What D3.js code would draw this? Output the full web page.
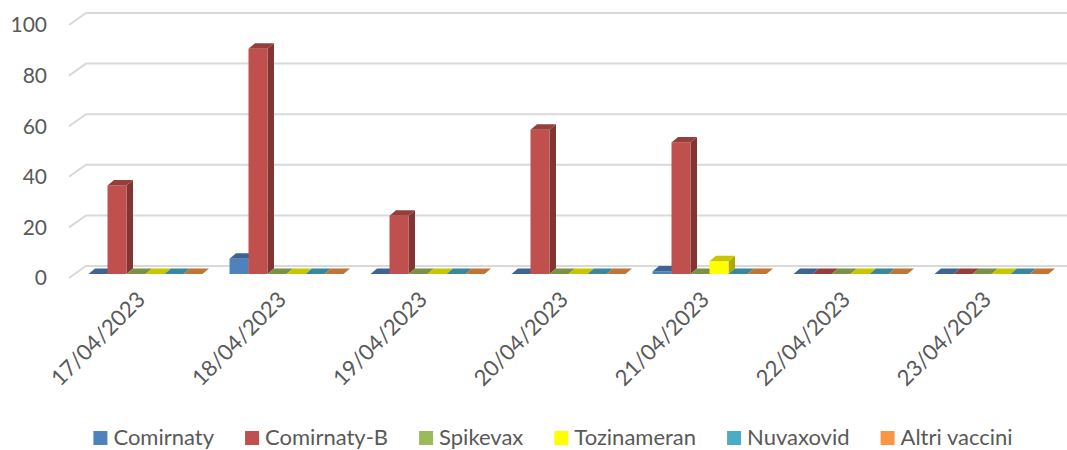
<!DOCTYPE html>
<html>
<head>
<meta charset="utf-8">
<script src="https://cdn.jsdelivr.net/npm/d3@7"></script>
<style>
  body { margin: 0; background: #fff; }
  svg { display: block; }
  text { font-family: Lato, "Open Sans", sans-serif; fill: #595959; }
</style>
</head>
<body>
<svg id="chart" width="1067" height="450"></svg>
<script>
// data
var dates = ['17/04/2023', '18/04/2023', '19/04/2023', '20/04/2023', '21/04/2023', '22/04/2023', '23/04/2023'];
var series = ['Comirnaty', 'Comirnaty-B', 'Spikevax', 'Tozinameran', 'Nuvaxovid', 'Altri vaccini'];
var colors = ['#4F81BD', '#C0504D', '#9BBB59', '#FFFF00', '#4BACC6', '#F79646'];
var comirnaty    = [0, 6, 0, 0, 1, 0, 0];
var comirnaty_b  = [35, 89, 23, 57, 52, 0, 0];
var spikevax     = [0, 0, 0, 0, 0, 0, 0];
var tozinameran  = [0, 0, 0, 0, 5, 0, 0];
var nuvaxovid    = [0, 0, 0, 0, 0, 0, 0];
var altri        = [0, 0, 0, 0, 0, 0, 0];
var y_ticks = [0, 20, 40, 60, 80, 100];

var values = [comirnaty, comirnaty_b, spikevax, tozinameran, nuvaxovid, altri];

var svg = d3.select('#chart');

// front plane of the 3d box, wall depth and bar depth offsets
var wall = {dx: 17, dy: -12};
var bar_off = -4;          // bars sit a bit behind the front edge
var bar_depth = {dx: 6.5, dy: -5.5};

var ys = d3.scaleLinear().domain([0, 100]).range([278, 25]);

var xs = d3.scaleBand()
    .domain(dates)
    .range([75, 1062])
    .paddingInner(27 / 141)
    .paddingOuter(13.5 / 141);

var xs_inner = d3.scaleBand()
    .domain(series)
    .range([0, xs.bandwidth()]);

var cs = d3.scaleOrdinal().domain(series).range(colors);

// gridlines: left wall diagonal + back wall line
var grid = svg.append('g');
y_ticks.forEach(function(t) {
    var yf = ys(t);
    grid.append('path')
        .attr('d', 'M69,' + yf + 'L' + (69 + wall.dx) + ',' + (yf + wall.dy) + 'L1067,' + (yf + wall.dy))
        .attr('fill', 'none')
        .attr('stroke', '#d9d9d9')
        .attr('stroke-width', 2);
});

// y tick labels
svg.append('g')
    .selectAll('text')
    .data(y_ticks)
    .enter()
    .append('text')
        .attr('x', 47)
        .attr('y', d => ys(d))
        .attr('dy', '0.35em')
        .attr('text-anchor', 'end')
        .style('font-size', '21px')
        .text(d => d);

// bars
var bars = svg.append('g');
dates.forEach(function(d, i) {
    series.forEach(function(s, j) {
        var v = values[j][i];
        var x0 = xs(d) + xs_inner(s);
        var w = xs_inner.bandwidth();
        var yb = ys(0) + bar_off;
        var yt = ys(v) + bar_off;
        var base = d3.color(cs(s));
        var g = bars.append('g');
        // side face
        g.append('path')
            .attr('d', 'M' + (x0 + w) + ',' + yb + 'L' + (x0 + w + bar_depth.dx) + ',' + (yb + bar_depth.dy) +
                'L' + (x0 + w + bar_depth.dx) + ',' + (yt + bar_depth.dy) + 'L' + (x0 + w) + ',' + yt + 'Z')
            .attr('fill', base.darker(1.1));
        // front face
        g.append('rect')
            .attr('x', x0)
            .attr('y', yt)
            .attr('width', w)
            .attr('height', yb - yt)
            .attr('fill', base);
        // top face
        g.append('path')
            .attr('d', 'M' + x0 + ',' + yt + 'L' + (x0 + bar_depth.dx) + ',' + (yt + bar_depth.dy) +
                'L' + (x0 + w + bar_depth.dx) + ',' + (yt + bar_depth.dy) + 'L' + (x0 + w) + ',' + yt + 'Z')
            .attr('fill', base.darker(0.7));
    });
});

// x labels
svg.append('g')
    .selectAll('text')
    .data(dates)
    .enter()
    .append('text')
        .attr('transform', d => 'translate(' + (xs(d) + xs.bandwidth() / 2 + 1) + ',301) rotate(-45)')
        .attr('text-anchor', 'end')
        .style('font-size', '22px')
        .text(d => d);

// legend
var legend = svg.append('g');
var sq = 14, gap_txt = 6, gap_item = 31;
var items = legend.selectAll('g')
    .data(series)
    .enter()
    .append('g');
items.append('rect')
    .attr('width', sq)
    .attr('height', sq)
    .attr('y', 431)
    .attr('fill', d => cs(d));
items.append('text')
    .attr('x', sq + gap_txt)
    .attr('y', 437)
    .attr('dy', '0.35em')
    .style('font-size', '22px')
    .text(d => d);

var pos = 0, offsets = [];
items.each(function() {
    offsets.push(pos);
    pos += sq + gap_txt + this.querySelector('text').getComputedTextLength() + gap_item;
});
var total = pos - gap_item;
var start = 553 - total / 2;
items.attr('transform', (d, i) => 'translate(' + (start + offsets[i]) + ',0)');
</script>
</body>
</html>
